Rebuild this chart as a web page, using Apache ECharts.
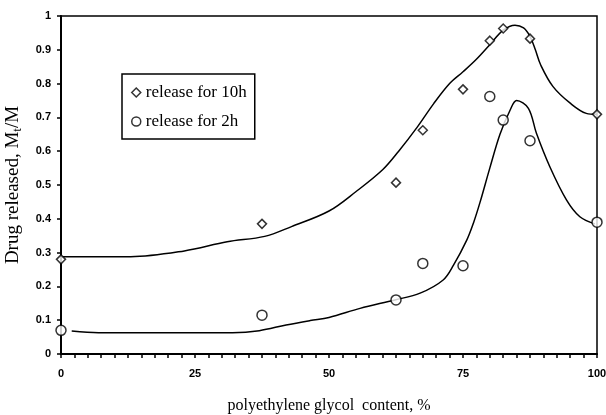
<!DOCTYPE html>
<html>
<head>
<meta charset="utf-8">
<script src="https://cdn.jsdelivr.net/npm/echarts@6/dist/echarts.min.js"></script>
<style>
  html, body { margin: 0; padding: 0; background: #fff; }
  #chart { width: 606px; height: 415px; }
</style>
</head>
<body>
<div id="chart"></div>
<script>
// measured points
var pegX = [0, 37.5, 62.5, 67.5, 75, 80, 82.5, 87.5, 100];
var rel10h = [0.28, 0.385, 0.507, 0.662, 0.783, 0.927, 0.963, 0.933, 0.709];
var rel2h = [0.07, 0.115, 0.16, 0.268, 0.261, 0.762, 0.692, 0.631, 0.39];

// fitted curves
var fit10X = [0, 13, 23, 31, 38, 43, 50, 55, 60, 63, 66.5, 69.5, 72.5, 75, 77.5, 80, 82.5, 84.7, 86.3, 87.5, 88.5, 89.5, 91.8, 95, 98, 100];
var fit10Y = [0.288, 0.288, 0.305, 0.332, 0.348, 0.377, 0.423, 0.48, 0.545, 0.6, 0.672, 0.74, 0.80, 0.835, 0.872, 0.915, 0.958, 0.973, 0.965, 0.94, 0.9, 0.855, 0.791, 0.742, 0.712, 0.709];
var fit2X = [2, 7, 32, 37, 42, 46.5, 50, 55.8, 62.3, 67, 71.3, 73.2, 75.7, 77, 78.2, 80, 81.9, 83.8, 85, 87.2, 88.7, 91.2, 94.3, 96.8, 99.6];
var fit2Y = [0.068, 0.063, 0.063, 0.069, 0.086, 0.099, 0.108, 0.135, 0.16, 0.18, 0.219, 0.262, 0.337, 0.39, 0.45, 0.55, 0.65, 0.722, 0.75, 0.727, 0.653, 0.554, 0.456, 0.406, 0.385];

var xTicks = [0, 25, 50, 75, 100];

function pairs(xs, ys) {
    var out = [];
    for (var i = 0; i < xs.length; i++) out.push([xs[i], ys[i]]);
    return out;
}

var myChart = echarts.init(document.getElementById('chart'));
var hollow = {color: '#fff', borderColor: '#000', borderWidth: 1.5};
var serif = '"Liberation Serif", "Times New Roman", serif';
var sans = '"Liberation Sans", Arial, sans-serif';

var option = {
    backgroundColor: '#fff',
    animation: false,
    grid: {
        left: 61, right: 9, top: 16, bottom: 61,
        outerBoundsMode: 'none',
        containLabel: false,
        show: true, borderColor: '#000', borderWidth: 1.5
    },
    legend: {
        orient: 'vertical',
        left: 122, top: 74,
        padding: [10, 8, 9, 9],
        itemGap: 12,
        itemWidth: 9, itemHeight: 9,
        backgroundColor: '#fff',
        borderColor: '#000',
        borderWidth: 1.5,
        borderRadius: 0,
        textStyle: {fontFamily: serif, fontSize: 17, color: '#000'},
        data: [
            {name: 'release for 10h', icon: 'diamond', itemStyle: hollow},
            {name: 'release for 2h', icon: 'circle', itemStyle: hollow}
        ]
    },
    xAxis: {
        type: 'value',
        min: 0, max: 100, interval: 25,
        name: 'polyethylene glycol  content, %',
        nameLocation: 'middle',
        nameGap: 44,
        nameTextStyle: {fontFamily: serif, fontSize: 16, color: '#000'},
        axisLine: {lineStyle: {color: '#000', width: 2}},
        axisTick: {show: true, length: 4, lineStyle: {color: '#000', width: 1.5}},
        minorTick: {show: true, splitNumber: 10, length: 4, lineStyle: {color: '#000', width: 1.5}},
        splitLine: {show: false},
        axisLabel: {
            margin: 14, fontFamily: sans, fontWeight: 'bold', fontSize: 11, color: '#000',
            formatter: function (v) { return xTicks.indexOf(v) >= 0 ? String(v) : ''; }
        }
    },
    yAxis: {
        type: 'value',
        min: 0, max: 1, interval: 0.1,
        name: '{a|Drug released, M}{b|t}{a|/M}',
        nameLocation: 'middle',
        nameGap: 37,
        nameTextStyle: {
            color: '#000',
            rich: {
                a: {fontFamily: serif, fontSize: 19, color: '#000'},
                b: {fontFamily: serif, fontSize: 13, color: '#000', padding: [9, 0, 0, 0]}
            }
        },
        axisLine: {lineStyle: {color: '#000', width: 2}},
        axisTick: {show: true, length: 4, lineStyle: {color: '#000', width: 1.5}},
        splitLine: {show: false},
        axisLabel: {
            margin: 10, fontFamily: sans, fontWeight: 'bold', fontSize: 11, color: '#000',
            formatter: function (v) { return String(Math.round(v * 10) / 10); }
        }
    },
    series: [
        {
            name: 'fit10', type: 'line', data: pairs(fit10X, fit10Y),
            smooth: 0.35, showSymbol: false, silent: true,
            lineStyle: {color: '#000', width: 1.5}
        },
        {
            name: 'fit2', type: 'line', data: pairs(fit2X, fit2Y),
            smooth: 0.35, showSymbol: false, silent: true,
            lineStyle: {color: '#000', width: 1.5}
        },
        {
            name: 'release for 10h', type: 'scatter', data: pairs(pegX, rel10h),
            symbol: 'diamond', symbolSize: 9, clip: false, z: 5,
            itemStyle: hollow
        },
        {
            name: 'release for 2h', type: 'scatter', data: pairs(pegX, rel2h),
            symbol: 'circle', symbolSize: 10, clip: false, z: 5,
            itemStyle: hollow
        }
    ]
};
myChart.setOption(option);
</script>
</body>
</html>
